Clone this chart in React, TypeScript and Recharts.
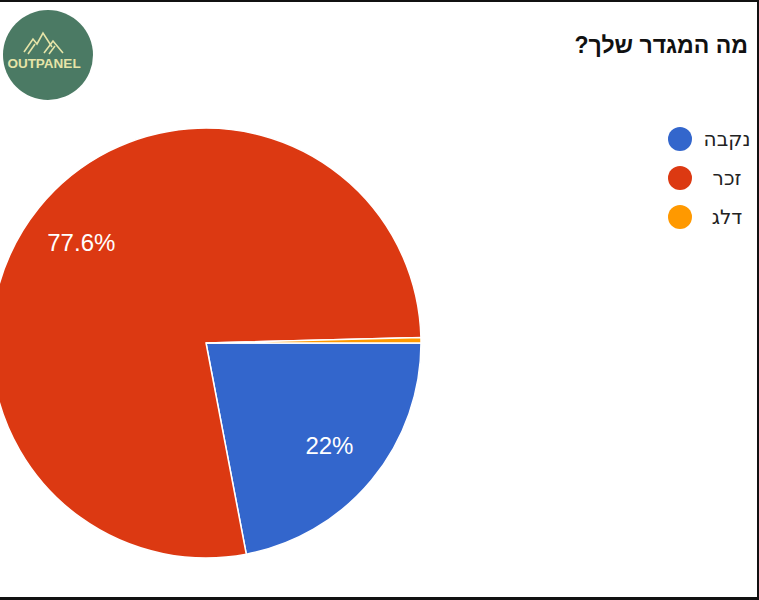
import React from "react";
import { PieChart, Pie, Cell, Legend } from "recharts";

const categories = ["נקבה", "זכר", "דלג"];
const values = [22, 77.6, 0.4];
const labels = ["22%", "77.6%", ""];
const colors = ["#3366cc", "#dc3912", "#ff9900"];
const title = "מה המגדר שלך?";
const logoText = "OUTPANEL";

const data = categories.map((name, i) => ({ name, value: values[i], label: labels[i] }));

const RADIAN = Math.PI / 180;

const renderLabel = (props: any) => {
  const { cx, cy, midAngle, outerRadius, index } = props;
  const text = labels[index];
  if (!text) return null;
  const r = outerRadius * 0.745;
  const x = cx + r * Math.cos(-midAngle * RADIAN);
  const y = cy + r * Math.sin(-midAngle * RADIAN);
  return (
    <text
      x={x}
      y={y}
      fill="#ffffff"
      textAnchor="middle"
      dominantBaseline="central"
      fontFamily="'Liberation Sans', Arial, sans-serif"
      fontSize={24}
    >
      {text}
    </text>
  );
};

const renderLegend = () => (
  <svg width={100} height={130}>
    {categories.map((c, i) => (
      <g key={c}>
        <circle cx={12} cy={13 + i * 39} r={12} fill={colors[i]} />
        <text
          x={59}
          y={13 + i * 39}
          textAnchor="middle"
          dominantBaseline="central"
          fontFamily="'DejaVu Sans', 'Liberation Sans', Arial, sans-serif"
          fontSize={20}
          fill="#222222"
        >
          {c}
        </text>
      </g>
    ))}
  </svg>
);

export default function App() {
  return (
    <div style={{ position: "absolute", left: 0, top: 0, width: 759, height: 600, background: "#ffffff", overflow: "hidden" }}>
      <PieChart width={759} height={600} margin={{ top: 0, right: 0, bottom: 0, left: 0 }}>
        <Pie
          data={data}
          dataKey="value"
          nameKey="name"
          cx={206}
          cy={343}
          outerRadius={215}
          startAngle={0}
          endAngle={-360}
          stroke="#ffffff"
          strokeWidth={1.5}
          label={renderLabel}
          labelLine={false}
          isAnimationActive={false}
        >
          {data.map((d, i) => (
            <Cell key={d.name} fill={colors[i]} />
          ))}
        </Pie>
        <Legend
          content={renderLegend}
          layout="vertical"
          wrapperStyle={{ position: "absolute", left: 668, top: 126, width: 100 }}
        />
      </PieChart>
      <div
        dir="rtl"
        style={{
          position: "absolute",
          right: 11,
          top: 32,
          fontFamily: "'Liberation Sans', Arial, sans-serif",
          fontWeight: "bold",
          fontSize: 23,
          color: "#111111",
          whiteSpace: "nowrap",
        }}
      >
        {title}
      </div>
      <svg style={{ position: "absolute", left: 0, top: 0 }} width={100} height={105}>
        <circle cx={48} cy={55} r={45} fill="#4b7a64" />
        <polyline points="24,52 33,39 37,44 43,33 52,47" fill="none" stroke="#e6e4a8" strokeWidth={1.6} />
        <polyline points="28,54 35,44" fill="none" stroke="#e6e4a8" strokeWidth={1.6} />
        <polyline points="44,53 53,41 63,53" fill="none" stroke="#e6e4a8" strokeWidth={1.6} />
        <polyline points="49,54 55,46" fill="none" stroke="#e6e4a8" strokeWidth={1.6} />
        <text
          x={44}
          y={68}
          textAnchor="middle"
          fontFamily="'Liberation Sans', Arial, sans-serif"
          fontWeight="bold"
          fontSize={13.5}
          fill="#e6e4a8"
        >
          {logoText}
        </text>
      </svg>
      <div style={{ position: "absolute", left: 0, top: 0, width: 759, height: 2, background: "#111" }} />
      <div style={{ position: "absolute", left: 0, top: 597, width: 759, height: 3, background: "#111" }} />
      <div style={{ position: "absolute", left: 757, top: 0, width: 2, height: 600, background: "#111" }} />
    </div>
  );
}
